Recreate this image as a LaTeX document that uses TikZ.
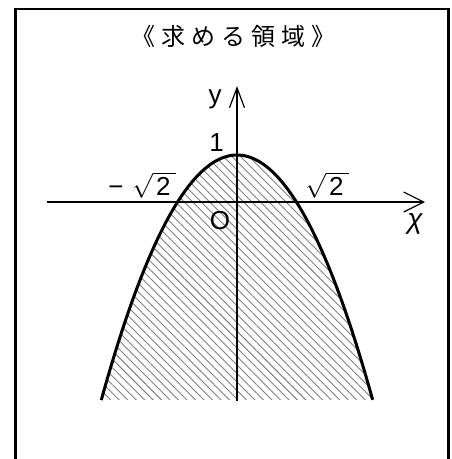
\documentclass[tikz,border=0pt]{standalone}
\usepackage{fontspec}
\newfontfamily\cjkfont{Noto Sans CJK JP}
\newfontfamily\labfont{Liberation Sans}
\usetikzlibrary{arrows.meta,patterns.meta}
\tikzset{
  frameline/.style={line width=2.5pt,black},
  axisline/.style={line width=2.2pt,black},
  curveline/.style={line width=3pt,black,line join=round},
  lab/.style={inner sep=0pt,font=\fontsize{26}{30}\selectfont\labfont},
  hatch/.style={pattern={Lines[angle=-45,distance=6pt,line width=0.9pt]},pattern color=black!50},
}
\newcommand\tsp{\hspace{6pt}}
\begin{document}
\begin{tikzpicture}[x=1pt,y=-1pt]
\useasboundingbox (0,0) rectangle (451,459);
% frame (bottom edge beyond page)
\draw[frameline] (15.3,470) -- (15.3,9.2) -- (448.7,9.2) -- (448.7,470);
% title
\node[inner sep=0pt,font=\fontsize{24}{28}\selectfont\cjkfont] (title) at (233.5,36) {《\tsp 求\tsp め\tsp る\tsp 領\tsp 域\tsp 》};
% region
\fill[hatch] plot[domain=-1:1,samples=121] ({237+135.7*\x},{155+245*\x*\x}) -- cycle;
% axes
\coordinate (xs) at (47,202);
\coordinate (xe) at (425,202);
\coordinate (ys) at (237,401);
\coordinate (ye) at (237,86);
\draw[axisline,-{Straight Barb[length=20pt,width=20pt,line width=1.2pt]}] (xs) -- (xe);
\draw[axisline,-{Straight Barb[length=20pt,width=15pt,line width=1.2pt]}] (ys) -- (ye);
% parabola
\draw[curveline] plot[domain=-1:1,samples=121] ({237+135.7*\x},{155+245*\x*\x});
% labels
\node[lab] (ylab) at (215,99) {y};
\node[lab] (one) at (216.5,142.5) {1};
\node[lab] (mr2) at (142,185) {−\hspace{9pt}$\sqrt{\hbox{\labfont\kern3pt 2\kern5pt}}$};
\node[lab] (r2) at (327,185) {$\sqrt{\hbox{\labfont\kern3pt 2\kern5pt}}$};
\node[lab] (orig) at (220,221) {O};
\node[lab,font=\fontsize{28}{32}\selectfont\labfont\itshape] (xlab) at (415,224) {χ};
\end{tikzpicture}
\end{document}
